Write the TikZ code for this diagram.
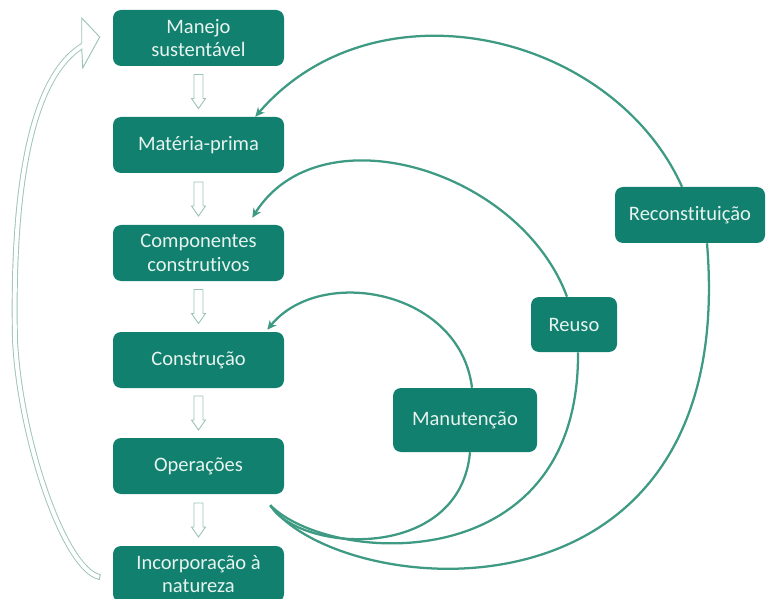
\documentclass[tikz,border=0pt]{standalone}
\usepackage{fontspec}
\setmainfont{Carlito}[Ligatures=NoCommon]
\usetikzlibrary{arrows.meta,calc}
\definecolor{boxc}{HTML}{12806F}
\definecolor{curvec}{HTML}{3E9A82}
\definecolor{hollowc}{HTML}{9CC4B6}
\definecolor{txtc}{HTML}{E6F3EE}
\pgfdeclarelayer{background}
\pgfsetlayers{background,main}
\begin{document}
\begin{tikzpicture}[x=0.75pt, y=-0.75pt,
  box/.style={draw=none, fill=boxc, rounded corners=6pt, text=txtc, align=center,
    font=\fontsize{15.4}{17.5}\selectfont, inner sep=0pt},
  mainbox/.style={box, minimum width=128.25pt, minimum height=42pt},
  loopc/.style={draw=curvec, line width=1.7pt, -{Stealth[length=7pt,width=6.5pt]}},
  linkc/.style={draw=curvec, line width=1.7pt},
  hollow/.style={draw=hollowc, line width=0.7pt},
  downarr/.pic={\draw[hollow, fill=white] (-4.5,-17) -- (4.5,-17) -- (4.5,7) -- (7,7) -- (0,17) -- (-7,7) -- (-4.5,7) -- cycle;}
]
\useasboundingbox (0,0) rectangle (768,599);

\node[mainbox] (b1) at (198.5,38) {Manejo\\sustentável};
\node[mainbox] (b2) at (198.5,145) {Matéria-prima};
\node[mainbox] (b3) at (198.5,253) {Componentes\\construtivos};
\node[mainbox] (b4) at (198.5,360) {Construção};
\node[mainbox] (b5) at (198.5,466) {Operações};
\node[mainbox] (b6) at (198.5,574) {Incorporação à\\natureza};

\node[box, minimum width=108pt, minimum height=48pt] (man) at (465,420) {Manutenção};
\node[box, minimum width=64.5pt, minimum height=41.25pt] (reu) at (574,324.5) {Reuso};
\node[box, minimum width=112.5pt, minimum height=42pt] (rec) at (690,215) {Reconstituição};

\pic at ($(b1.south)!0.5!(b2.north)$) {downarr};
\pic at ($(b2.south)!0.5!(b3.north)$) {downarr};
\pic at ($(b3.south)!0.5!(b4.north)$) {downarr};
\pic at ($(b4.south)!0.5!(b5.north)$) {downarr};
\pic at ($(b5.south)!0.5!(b6.north)$) {downarr};

\begin{pgfonlayer}{background}
\coordinate (st) at ($(b5.south east)+(-14,11)$);
% outer loop
\draw[linkc] (st) .. controls +(70,95) and +(33,397) .. ($(rec.south)+(17,0)$);
\draw[loopc] ($(rec.north)+(-8,0)$) .. controls +(-70,-155) and +(120,-139) .. ($(b2.north east)+(-29,0)$);
% middle loop
\draw[linkc] (st) .. controls +(60,60) and +(2,228) .. ($(reu.south)+(4,0)$);
\draw[loopc] ($(reu.north)+(-7,0)$) .. controls +(-47,-127) and +(68,-108) .. ($(b3.north east)+(-32,-7)$);
% inner loop
\draw[linkc] (st) .. controls +(30,48) and +(-10,110) .. ($(man.south)+(5,0)$);
\draw[loopc] ($(man.north)+(7,0)$) .. controls +(-12,-98) and +(53,-65) .. ($(b4.north east)+(-17,-2)$);
\end{pgfonlayer}

% big hollow return arrow
\coordinate (tail) at ($(b6.west)+(-13,3)$);
\coordinate (mid) at (15,340);
\coordinate (hb) at ($(b1.west)+(-27,6)$);
\coordinate (tip) at ($(b1.west)+(-13,-1)$);
\coordinate (hu) at ($(b1.west)+(-31,-20)$);
\coordinate (hl) at ($(b1.west)+(-30,30)$);
\coordinate (nu) at ($(b1.west)+(-31,5)$);
\coordinate (nl) at ($(b1.west)+(-31,11)$);
\draw[hollow, double=white, double distance=3pt] (tail) .. controls +(-35,-7) and +(5,100) .. (mid) .. controls +(-3,-140) and +(-58,31) .. (hb);
\fill[white] (tip) -- (hu) -- (hl) -- cycle;
\draw[hollow] (nu) -- (hu) -- (tip) -- (hl) -- (nl);
\draw[hollow] ($(tail)+(-0.6,3)$) -- ($(tail)+(0.6,-3)$);
\end{tikzpicture}
\end{document}
